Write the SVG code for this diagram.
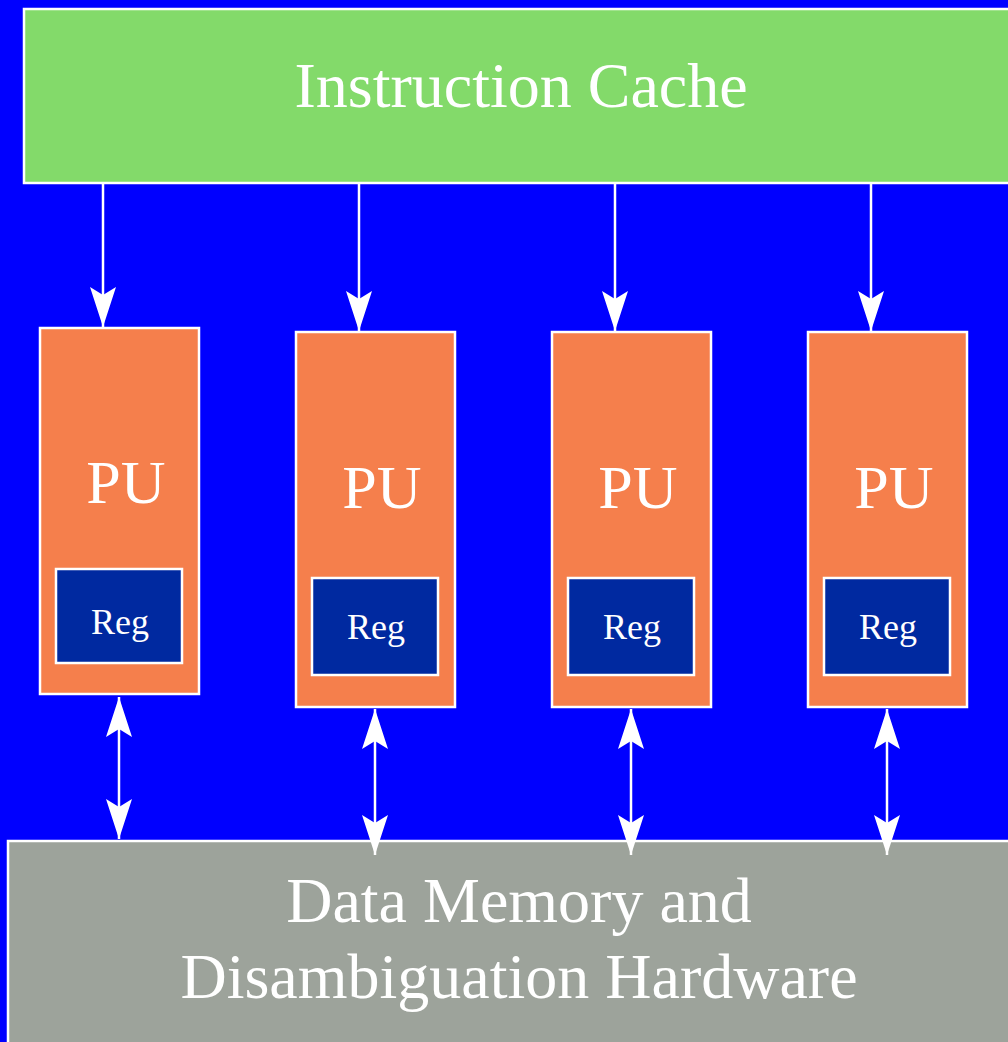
<svg xmlns="http://www.w3.org/2000/svg" width="1008" height="1042" viewBox="0 0 1008 1042">
  <style>
    .box { stroke: #ffffff; stroke-width: 2.5; }
    .cache { fill: #83da6a; }
    .pu { fill: #f57f4c; }
    .reg { fill: #0029a0; }
    .mem { fill: #9da39b; }
    .label { font-family: "Liberation Serif", "Times New Roman", serif; fill: #ffffff; text-anchor: middle; }
    .big { font-size: 64px; }
    .pu-text { font-size: 62px; }
    .small { font-size: 36px; }
    .wire { stroke: #ffffff; stroke-width: 2.5; fill: none; }
  </style>
  <defs>
    <marker id="head" viewBox="0 0 40 26" refX="40" refY="13" markerWidth="40" markerHeight="26" markerUnits="userSpaceOnUse" orient="auto-start-reverse">
      <path d="M40,13 L0,0 L8,13 L0,26 Z" fill="#ffffff"/>
    </marker>
  </defs>

  <rect width="1008" height="1042" fill="#0000ff"/>

  <g id="instruction-cache">
    <rect class="box cache" x="24" y="9" width="1000" height="174"/>
    <text class="label big" x="521" y="107">Instruction Cache</text>
  </g>

  <g id="pu1">
    <rect class="box pu" x="40" y="328" width="159" height="366"/>
    <text class="label pu-text" x="126" y="503">PU</text>
    <rect class="box reg" x="56" y="569" width="126" height="94"/>
    <text class="label small" x="120" y="634">Reg</text>
  </g>
  <g id="pu2">
    <rect class="box pu" x="296" y="332" width="159" height="375"/>
    <text class="label pu-text" x="382" y="508">PU</text>
    <rect class="box reg" x="312" y="578" width="126" height="97"/>
    <text class="label small" x="376" y="639">Reg</text>
  </g>
  <g id="pu3">
    <rect class="box pu" x="552" y="332" width="159" height="375"/>
    <text class="label pu-text" x="638" y="508">PU</text>
    <rect class="box reg" x="568" y="578" width="126" height="97"/>
    <text class="label small" x="632" y="639">Reg</text>
  </g>
  <g id="pu4">
    <rect class="box pu" x="808" y="332" width="159" height="375"/>
    <text class="label pu-text" x="894" y="508">PU</text>
    <rect class="box reg" x="824" y="578" width="126" height="97"/>
    <text class="label small" x="888" y="639">Reg</text>
  </g>

  <g id="data-memory">
    <rect class="box mem" x="8" y="841" width="1020" height="220"/>
    <text class="label big" x="519" y="922">Data Memory and</text>
    <text class="label big" x="519" y="998">Disambiguation Hardware</text>
  </g>

  <g id="connectors">
    <line class="wire" x1="103" y1="183" x2="103" y2="327" marker-end="url(#head)"/>
    <line class="wire" x1="359" y1="183" x2="359" y2="331" marker-end="url(#head)"/>
    <line class="wire" x1="615" y1="183" x2="615" y2="331" marker-end="url(#head)"/>
    <line class="wire" x1="871" y1="183" x2="871" y2="331" marker-end="url(#head)"/>
    <line class="wire" x1="119" y1="697" x2="119" y2="839" marker-start="url(#head)" marker-end="url(#head)"/>
    <line class="wire" x1="375" y1="709" x2="375" y2="855" marker-start="url(#head)" marker-end="url(#head)"/>
    <line class="wire" x1="631" y1="709" x2="631" y2="855" marker-start="url(#head)" marker-end="url(#head)"/>
    <line class="wire" x1="887" y1="709" x2="887" y2="855" marker-start="url(#head)" marker-end="url(#head)"/>
  </g>
</svg>
